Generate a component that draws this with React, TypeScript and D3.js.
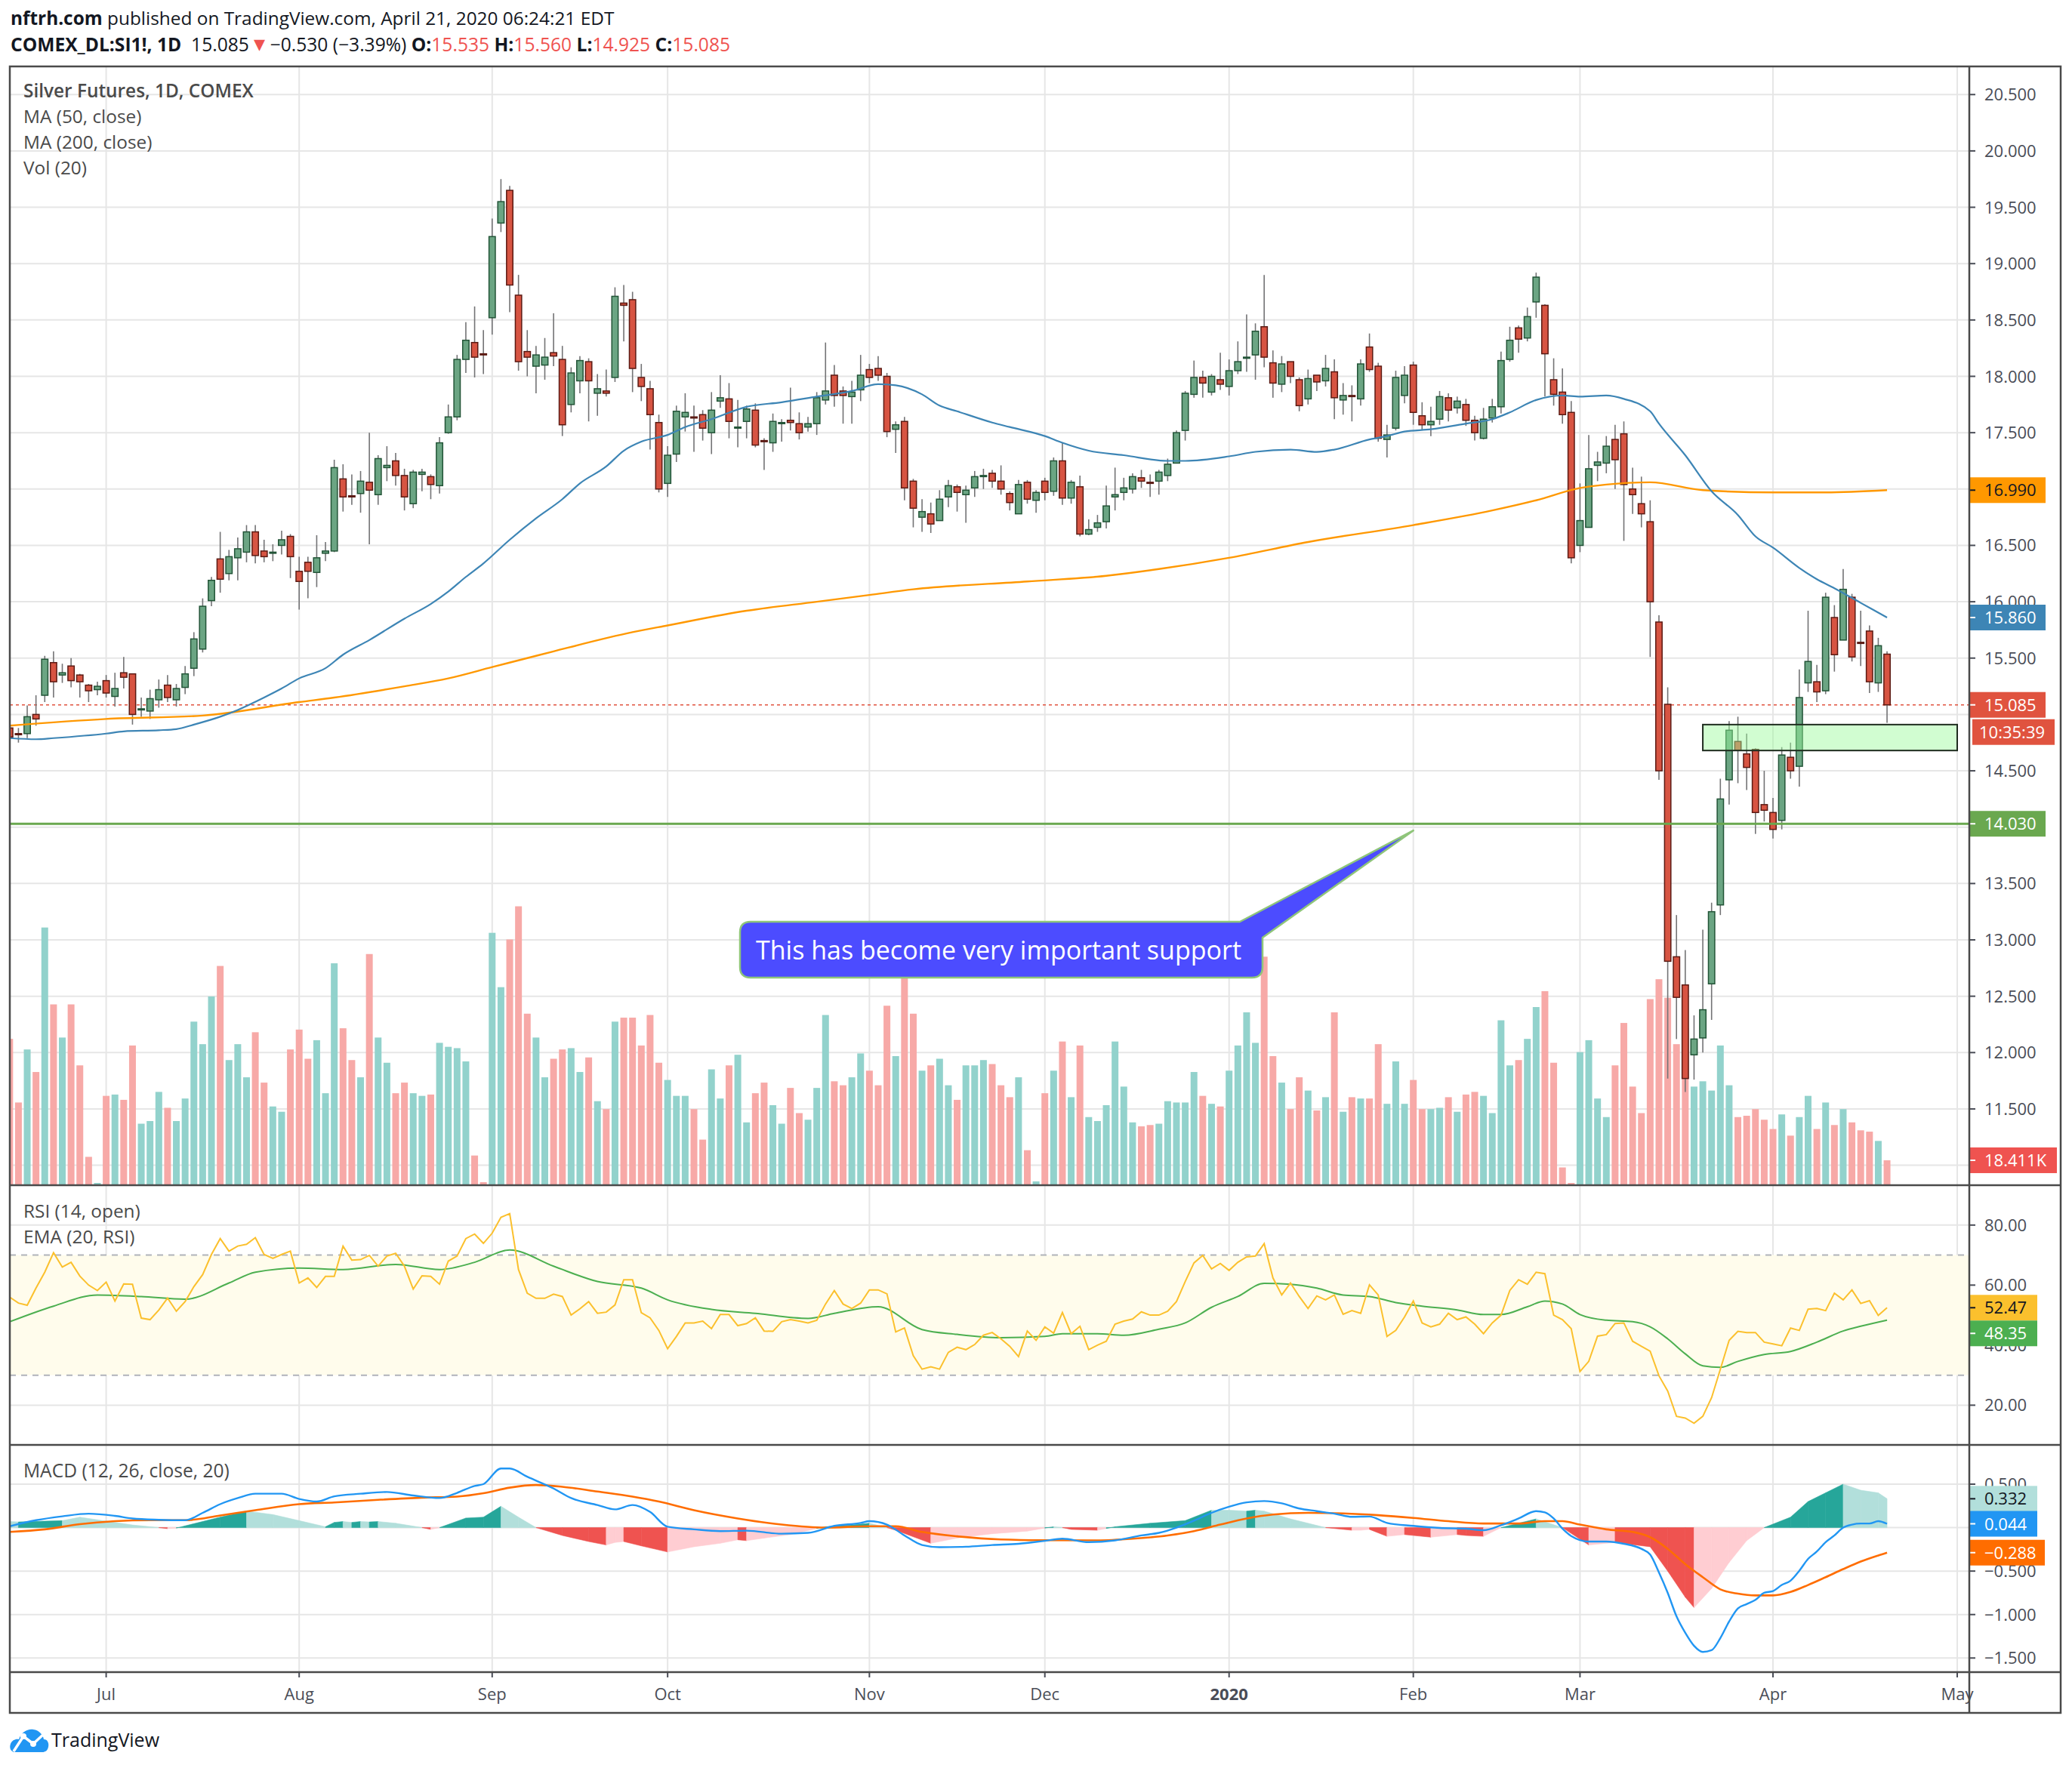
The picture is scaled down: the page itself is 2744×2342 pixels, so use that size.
import React from "react";
import * as d3 from "d3";

// ---- values ----
const monthTicks: [string, number][] = [
  ["Jul", 11], ["Aug", 33], ["Sep", 55], ["Oct", 75], ["Nov", 98], ["Dec", 118],
  ["2020", 139], ["Feb", 160], ["Mar", 179], ["Apr", 201], ["May", 222],
];
// tick labels that are not hidden behind a value tag
const priceTicks = [20.5, 20, 19.5, 19, 18.5, 18, 17.5, 16.5, 16, 15.5, 14.5, 13.5, 13, 12.5, 12, 11.5];
const priceGrid = [20.5, 20, 19.5, 19, 18.5, 18, 17.5, 17, 16.5, 16, 15.5, 15, 14.5, 14, 13.5, 13, 12.5, 12, 11.5, 11];
const rsiTicks = [80, 60, 40, 20];
const macdTicks = [0.5, -0.5, -1, -1.5];
const macdGrid = [0.5, 0, -0.5, -1, -1.5];

// open, high, low, close
const candles: [number, number, number, number][] = [
  [14.88, 14.9, 14.78, 14.8], [14.83, 14.88, 14.75, 14.82], [14.83, 15.08, 14.79, 14.98], [15.0, 15.17, 14.9, 14.96],
  [15.17, 15.52, 15.11, 15.49], [15.46, 15.56, 15.15, 15.29], [15.35, 15.45, 15.28, 15.37], [15.43, 15.5, 15.24, 15.3],
  [15.35, 15.36, 15.15, 15.29], [15.26, 15.27, 15.11, 15.21], [15.22, 15.29, 15.17, 15.25], [15.3, 15.35, 15.15, 15.19],
  [15.16, 15.37, 15.07, 15.23], [15.37, 15.51, 15.23, 15.33], [15.36, 15.36, 14.91, 15.0], [15.04, 15.15, 14.98, 15.05],
  [15.03, 15.22, 14.96, 15.14], [15.13, 15.31, 15.06, 15.22], [15.26, 15.35, 15.11, 15.15], [15.13, 15.27, 15.07, 15.23],
  [15.24, 15.43, 15.18, 15.36], [15.41, 15.73, 15.34, 15.67], [15.58, 16.03, 15.55, 15.96], [16.01, 16.22, 15.96, 16.19],
  [16.38, 16.62, 16.08, 16.2], [16.25, 16.46, 16.19, 16.4], [16.39, 16.57, 16.19, 16.47], [16.44, 16.68, 16.35, 16.62],
  [16.62, 16.68, 16.34, 16.41], [16.45, 16.55, 16.35, 16.4], [16.43, 16.51, 16.36, 16.44], [16.5, 16.63, 16.42, 16.55],
  [16.58, 16.6, 16.21, 16.4], [16.27, 16.4, 15.93, 16.18], [16.35, 16.4, 16.03, 16.27], [16.26, 16.59, 16.13, 16.39],
  [16.43, 16.53, 16.36, 16.45], [16.45, 17.26, 16.44, 17.19], [17.09, 17.22, 16.8, 16.93], [16.94, 17.13, 16.86, 16.93],
  [16.96, 17.16, 16.79, 17.07], [17.06, 17.5, 16.51, 16.99], [16.95, 17.3, 16.86, 17.27], [17.19, 17.38, 17.07, 17.21],
  [17.25, 17.32, 17.03, 17.12], [17.12, 17.18, 16.81, 16.93], [16.87, 17.17, 16.83, 17.15], [17.13, 17.18, 16.98, 17.15],
  [17.11, 17.13, 16.91, 17.04], [17.03, 17.46, 16.96, 17.41], [17.5, 17.75, 17.49, 17.64], [17.64, 18.19, 17.61, 18.15],
  [18.15, 18.48, 18.03, 18.32], [18.3, 18.62, 17.99, 18.17], [18.2, 18.41, 18.02, 18.19], [18.52, 19.4, 18.37, 19.24],
  [19.36, 19.75, 19.28, 19.55], [19.65, 19.69, 18.57, 18.81], [18.72, 18.9, 18.05, 18.13], [18.22, 18.41, 18.0, 18.17],
  [18.09, 18.27, 17.85, 18.19], [18.1, 18.34, 17.97, 18.17], [18.21, 18.56, 18.09, 18.18], [18.15, 18.27, 17.47, 17.57],
  [17.75, 18.08, 17.68, 18.03], [17.96, 18.18, 17.85, 18.14], [18.13, 18.16, 17.6, 17.96], [17.85, 18.02, 17.65, 17.89],
  [17.87, 18.06, 17.82, 17.85], [17.99, 18.79, 17.95, 18.71], [18.65, 18.81, 18.31, 18.63], [18.68, 18.75, 17.86, 18.07],
  [17.99, 18.11, 17.78, 17.91], [17.89, 17.96, 17.35, 17.66], [17.59, 17.66, 16.97, 17.0], [17.05, 17.38, 16.93, 17.3],
  [17.31, 17.74, 17.24, 17.69], [17.64, 17.85, 17.51, 17.68], [17.64, 17.74, 17.33, 17.63], [17.66, 17.7, 17.43, 17.54],
  [17.5, 17.86, 17.31, 17.7], [17.78, 18.01, 17.72, 17.81], [17.8, 17.94, 17.45, 17.6], [17.54, 17.79, 17.37, 17.55],
  [17.6, 17.74, 17.45, 17.71], [17.7, 17.76, 17.37, 17.39], [17.43, 17.45, 17.17, 17.42], [17.41, 17.67, 17.33, 17.6],
  [17.58, 17.62, 17.42, 17.59], [17.61, 17.9, 17.52, 17.59], [17.58, 17.68, 17.44, 17.5], [17.55, 17.64, 17.51, 17.58],
  [17.58, 17.86, 17.48, 17.81], [17.79, 18.3, 17.75, 17.87], [18.01, 18.1, 17.73, 17.83], [17.87, 17.91, 17.58, 17.83],
  [17.82, 17.96, 17.58, 17.86], [17.88, 18.19, 17.78, 18.01], [18.06, 18.11, 17.94, 17.99], [18.07, 18.18, 17.96, 18.01],
  [18.0, 18.03, 17.46, 17.51], [17.53, 17.6, 17.32, 17.57], [17.6, 17.64, 16.9, 17.01], [17.07, 17.09, 16.66, 16.83],
  [16.75, 16.91, 16.62, 16.8], [16.78, 16.88, 16.61, 16.69], [16.72, 16.99, 16.72, 16.91], [16.93, 17.08, 16.84, 17.03],
  [17.02, 17.04, 16.8, 16.97], [16.95, 17.03, 16.7, 16.99], [17.01, 17.16, 16.93, 17.11], [17.11, 17.18, 17.0, 17.12],
  [17.14, 17.17, 17.01, 17.07], [17.07, 17.21, 16.95, 17.0], [16.96, 16.98, 16.81, 16.88], [16.78, 17.08, 16.78, 17.04],
  [17.06, 17.08, 16.87, 16.91], [16.9, 16.99, 16.79, 16.97], [17.07, 17.1, 16.9, 16.97], [16.98, 17.28, 16.94, 17.25],
  [17.25, 17.41, 16.86, 16.92], [16.92, 17.08, 16.87, 17.06], [17.02, 17.12, 16.58, 16.6], [16.6, 16.73, 16.59, 16.64],
  [16.66, 16.77, 16.62, 16.7], [16.71, 17.03, 16.65, 16.85], [16.93, 17.19, 16.81, 16.95], [16.97, 17.1, 16.9, 17.01],
  [17.0, 17.14, 16.96, 17.11], [17.1, 17.17, 17.01, 17.07], [17.06, 17.13, 16.93, 17.05], [17.07, 17.17, 16.95, 17.15],
  [17.12, 17.27, 17.07, 17.22], [17.23, 17.52, 17.23, 17.5], [17.52, 17.87, 17.43, 17.85], [17.84, 18.14, 17.81, 17.99],
  [17.99, 18.05, 17.81, 17.94], [17.86, 18.02, 17.83, 18.0], [17.97, 18.21, 17.88, 17.93], [17.91, 18.15, 17.83, 18.05],
  [18.05, 18.31, 18.02, 18.13], [18.16, 18.55, 18.04, 18.17], [18.19, 18.47, 17.97, 18.4], [18.44, 18.9, 18.08, 18.17],
  [18.12, 18.23, 17.81, 17.94], [17.93, 18.18, 17.86, 18.11], [18.13, 18.13, 17.94, 18.0], [17.97, 17.99, 17.69, 17.74],
  [17.8, 18.06, 17.75, 17.98], [18.01, 18.01, 17.87, 17.95], [17.96, 18.19, 17.91, 18.07], [18.04, 18.15, 17.62, 17.81],
  [17.79, 17.94, 17.66, 17.83], [17.83, 17.92, 17.6, 17.82], [17.8, 18.15, 17.74, 18.11], [18.26, 18.38, 18.04, 18.06],
  [18.09, 18.12, 17.42, 17.45], [17.44, 17.57, 17.28, 17.48], [17.54, 18.05, 17.52, 17.99], [17.83, 18.09, 17.76, 18.01],
  [18.1, 18.13, 17.57, 17.68], [17.65, 17.77, 17.52, 17.57], [17.57, 17.73, 17.47, 17.6], [17.62, 17.87, 17.57, 17.82],
  [17.81, 17.85, 17.6, 17.7], [17.72, 17.82, 17.67, 17.78], [17.75, 17.8, 17.56, 17.61], [17.61, 17.65, 17.43, 17.5],
  [17.45, 17.72, 17.44, 17.62], [17.63, 17.8, 17.59, 17.73], [17.73, 18.22, 17.67, 18.14], [18.15, 18.44, 18.13, 18.32],
  [18.43, 18.45, 18.21, 18.33], [18.34, 18.61, 18.31, 18.53], [18.66, 18.92, 18.52, 18.88], [18.63, 18.64, 17.82, 18.2],
  [17.97, 18.16, 17.74, 17.84], [17.86, 18.07, 17.58, 17.66], [17.68, 17.78, 16.34, 16.39], [16.5, 17.05, 16.44, 16.72],
  [16.66, 17.48, 16.66, 17.18], [17.21, 17.33, 17.07, 17.24], [17.23, 17.47, 17.14, 17.38], [17.44, 17.57, 17.0, 17.26],
  [17.49, 17.6, 16.54, 17.04], [17.0, 17.19, 16.78, 16.95], [16.87, 17.11, 16.66, 16.78], [16.71, 16.9, 15.51, 16.0],
  [15.82, 15.88, 14.42, 14.5], [15.09, 15.24, 11.77, 12.81], [12.85, 13.22, 12.12, 12.49], [12.6, 12.91, 11.65, 11.77],
  [11.98, 12.33, 11.76, 12.12], [12.13, 13.09, 12.0, 12.38], [12.61, 13.33, 12.29, 13.25], [13.31, 14.43, 13.22, 14.25],
  [14.42, 14.94, 14.2, 14.86], [14.76, 14.98, 14.39, 14.68], [14.65, 14.83, 14.33, 14.53], [14.69, 14.7, 13.94, 14.13],
  [14.2, 14.5, 14.05, 14.15], [14.13, 14.26, 13.9, 13.98], [14.06, 14.71, 13.98, 14.64], [14.62, 14.75, 14.43, 14.5],
  [14.54, 15.4, 14.36, 15.15], [15.28, 15.92, 15.2, 15.47], [15.29, 15.44, 15.11, 15.2], [15.21, 16.08, 15.18, 16.04],
  [15.86, 15.97, 15.38, 15.53], [15.66, 16.29, 15.66, 16.11], [16.04, 16.07, 15.47, 15.51], [15.64, 15.92, 15.43, 15.63],
  [15.74, 15.79, 15.19, 15.29], [15.28, 15.68, 15.2, 15.61], [15.535, 15.56, 14.925, 15.085],
];

// volume in thousands of contracts
const volumesK = [
  110, 62, 102, 85, 194, 136, 111, 136, 90, 21, 1.3, 67, 68, 64, 105, 46, 48, 70, 58, 48,
  65, 123, 106, 142, 165, 94, 106, 81, 115, 77, 59, 55, 102, 117, 95, 109, 69, 167, 118, 94,
  81, 174, 111, 92, 69, 77, 69, 67, 68, 107, 104, 103, 93, 22, 1.9, 190, 149, 185, 210, 129,
  111, 81, 95, 102, 103, 85, 96, 63, 57, 123, 126, 126, 105, 128, 92, 79, 67, 67, 57, 34,
  87, 65, 90, 98, 47, 69, 77, 60, 46, 73, 54, 49, 73, 128, 78, 75, 81, 99, 86, 75,
  135, 97, 161, 129, 86, 90, 95, 75, 64, 90, 90, 94, 91, 75, 66, 81, 26, 2.5, 69, 86,
  108, 66, 105, 51, 48, 60, 108, 74, 47, 44, 45, 46, 63, 62, 62, 85, 67, 61, 59, 86,
  105, 130, 107, 172, 97, 77, 57, 81, 71, 56, 66, 130, 55, 66, 65, 65, 106, 61, 93, 61,
  79, 57, 57, 58, 66, 55, 68, 70, 67, 54, 124, 90, 94, 110, 134, 146, 92, 13, 1.3, 100,
  109, 65, 51, 90, 122, 74, 54, 140, 155, 141, 106, 118, 74, 78, 71, 105, 75, 51, 52, 57,
  49, 42, 53, 37, 51, 67, 42, 62, 45, 57, 47, 41, 40, 33, 18.411,
];

const ma50: [number, number][] = [
  [0, 14.79], [3, 14.78], [5, 14.79], [11, 14.83], [13, 14.85], [17, 14.86], [19, 14.87], [21, 14.91],
  [24, 14.98], [26, 15.04], [29, 15.15], [31, 15.23], [33, 15.32], [36, 15.41], [38, 15.53], [41, 15.66],
  [45, 15.85], [48, 15.98], [50, 16.09], [52, 16.22], [54, 16.34], [57, 16.55], [60, 16.74], [63, 16.91],
  [65, 17.05], [68, 17.2], [70, 17.34], [72, 17.42], [75, 17.48], [77, 17.55], [80, 17.62], [84, 17.73],
  [88, 17.77], [92, 17.82], [96, 17.87], [99, 17.93], [101, 17.92], [104, 17.84], [106, 17.74], [108, 17.69],
  [112, 17.59], [114, 17.55], [118, 17.47], [120, 17.41], [123, 17.34], [127, 17.3], [132, 17.25], [134, 17.25],
  [139, 17.29], [142, 17.33], [146, 17.35], [149, 17.33], [151, 17.35], [155, 17.44], [157, 17.47], [159, 17.51],
  [162, 17.53], [166, 17.58], [169, 17.62], [171, 17.68], [174, 17.79], [177, 17.83], [179, 17.82], [182, 17.83],
  [184, 17.8], [187, 17.69], [188, 17.58], [191, 17.3], [194, 16.98], [197, 16.77], [199, 16.58], [201, 16.48],
  [204, 16.3], [206, 16.2], [208, 16.12], [211, 15.99], [214, 15.86],
];
const ma200: [number, number][] = [
  [0, 14.9], [11, 14.96], [22, 14.99], [33, 15.11], [37, 15.15], [45, 15.25], [50, 15.32], [55, 15.42],
  [59, 15.5], [62, 15.56], [71, 15.73], [75, 15.79], [84, 15.92], [92, 16.0], [98, 16.06], [103, 16.11],
  [116, 16.18], [125, 16.23], [131, 16.29], [139, 16.39], [148, 16.53], [160, 16.68], [169, 16.81], [174, 16.9],
  [179, 17.01], [182, 17.04], [187, 17.06], [193, 16.99], [201, 16.97], [207, 16.97], [214, 16.99],
];

const rsiOpen = [
  56, 54, 53.3, 59, 64.3, 70.8, 66, 67.6, 63, 60, 58.2, 61, 54.7, 60.4, 60.3, 49, 48.5, 51.7, 55.7, 51.3,
  54.5, 59.5, 63.5, 70.2, 75.5, 71.3, 73, 73.6, 75.8, 70.2, 68.9, 70.2, 71.3, 60.7, 62.4, 59.2, 62.9, 62.9, 73, 68.3,
  68.5, 69.9, 66.3, 69.7, 70.6, 66.3, 58.7, 63.1, 62.9, 60.3, 68, 69.7, 75.5, 77, 73.9, 77.3, 82.6, 83.8, 65.2, 57.3,
  55.6, 55.6, 57, 56.2, 50, 52.1, 54.5, 50.6, 51, 53.4, 61.8, 61.8, 50.8, 49.1, 44.9, 38.8, 42.9, 47.4, 47.4, 48,
  45.5, 50.2, 50.2, 46.5, 47.2, 49.1, 44.7, 44.6, 47.8, 48.5, 48, 47.4, 48.3, 53.7, 58.2, 53.7, 52.2, 54, 58.4, 58.4,
  57.1, 44.4, 45.7, 36.5, 32, 32.8, 32, 37.6, 39.3, 38.5, 40.2, 43.3, 44.2, 42.1, 39.6, 36.2, 44.7, 41.6, 46.1, 44,
  50.9, 43.8, 46.3, 38.5, 40, 41.3, 47, 48, 48.7, 51.1, 50, 50, 51.3, 54.5, 61.2, 67.4, 69.9, 65.4, 67.2, 64.9,
  67.6, 69.4, 69.7, 73.8, 62.4, 56.7, 60.7, 56.2, 52.2, 56.4, 55.1, 56.7, 50.3, 51.5, 50.6, 60.1, 56.7, 42.9, 44.9, 49.4,
  54.7, 47.4, 46.1, 47, 50.6, 48.5, 49.4, 47, 43.8, 47.4, 50, 58.2, 61.8, 60.3, 64.3, 63.8, 50, 48.5, 45.5, 31.2,
  34.6, 43, 43.5, 47.2, 47.4, 41.3, 39.6, 38, 29.8, 24.7, 16.3, 15.7, 14, 16.3, 22.5, 32, 41.6, 44.6, 44.2, 44.2,
  41, 40.4, 39.8, 45.7, 44.9, 52, 52.2, 51.5, 57.3, 55.1, 58.4, 53.9, 54.8, 49.9, 52.47,
];
const rsiEma: [number, number][] = [
  [0, 47.8], [5, 53], [10, 56.7], [15, 56.2], [20, 55.3], [25, 60.7], [28, 64.3], [33, 65.7], [38, 65.2],
  [44, 66.9], [49, 65.2], [53, 67.6], [57, 71.7], [62, 66.3], [67, 61.2], [72, 59], [75, 55.1], [80, 51.9],
  [85, 50.6], [91, 48.9], [94, 50.6], [99, 52.8], [104, 45.2], [108, 43.6], [113, 42.5], [118, 42.9], [120, 43.8],
  [124, 43.8], [127, 43.3], [131, 45.3], [134, 47.4], [137, 52.6], [140, 56.2], [143, 60.6], [146, 60.3], [149, 59],
  [152, 56.7], [155, 56.2], [158, 54.2], [161, 53], [165, 51.7], [168, 50.2], [170, 50.2], [173, 52.8], [175, 54.7],
  [177, 53.7], [179, 50.2], [182, 48.3], [185, 47.8], [187, 46.1], [189, 42.1], [191, 37.1], [193, 33.1], [195, 32.6],
  [197, 34.6], [200, 36.9], [203, 37.9], [206, 41], [209, 44.7], [211, 46.3], [214, 48.35],
];

const macdLine: [number, number][] = [
  [0, 0.016], [3, 0.085], [6, 0.13], [9, 0.16], [12, 0.135], [14, 0.105], [17, 0.09], [20, 0.085], [22, 0.17],
  [24, 0.27], [26, 0.34], [28, 0.39], [31, 0.39], [33, 0.33], [35, 0.3], [37, 0.36], [40, 0.39], [43, 0.41],
  [46, 0.37], [49, 0.34], [51, 0.4], [53, 0.48], [54, 0.5], [56, 0.68], [57, 0.68], [59, 0.585], [62, 0.45],
  [64, 0.34], [67, 0.26], [69, 0.21], [71, 0.26], [73, 0.18], [75, 0.01], [78, -0.02], [81, -0.04], [84, -0.035],
  [88, -0.07], [91, -0.06], [94, 0.02], [97, 0.054], [98, 0.074], [100, 0.035], [102, -0.09], [104, -0.2],
  [106, -0.225], [109, -0.22], [112, -0.2], [115, -0.186], [118, -0.152], [120, -0.128], [123, -0.167],
  [126, -0.147], [129, -0.09], [131, -0.06], [133, 0.0], [135, 0.08], [137, 0.17], [139, 0.24], [141, 0.29],
  [143, 0.306], [145, 0.28], [147, 0.22], [149, 0.19], [151, 0.16], [153, 0.124], [155, 0.128], [157, 0.054],
  [160, 0.02], [163, -0.004], [166, -0.012], [168, -0.03], [170, 0.027], [172, 0.105], [174, 0.19], [175, 0.175],
  [176, 0.105], [177, -0.012], [178, -0.097], [180, -0.16], [182, -0.16], [184, -0.186], [186, -0.244],
  [187, -0.31], [188, -0.516], [189, -0.75], [190, -1.02], [191, -1.21], [192, -1.36], [193, -1.43], [194, -1.41],
  [195, -1.27], [196, -1.08], [197, -0.93], [198, -0.88], [199, -0.83], [200, -0.75], [201, -0.73], [202, -0.66],
  [203, -0.61], [204, -0.496], [205, -0.36], [206, -0.275], [207, -0.167], [208, -0.09], [209, 0.0], [210, 0.035],
  [211, 0.047], [212, 0.047], [213, 0.074], [214, 0.044],
];
const signalLine: [number, number][] = [
  [0, -0.05], [4, -0.02], [8, 0.04], [12, 0.074], [16, 0.085], [20, 0.085], [24, 0.14], [28, 0.2], [33, 0.27],
  [37, 0.29], [42, 0.32], [47, 0.345], [51, 0.357], [54, 0.395], [57, 0.46], [60, 0.49], [63, 0.47], [67, 0.415],
  [71, 0.357], [74, 0.3], [78, 0.2], [83, 0.105], [88, 0.035], [93, 0.0], [98, 0.016], [101, 0.016], [104, -0.05],
  [108, -0.1], [113, -0.136], [118, -0.145], [124, -0.147], [128, -0.128], [132, -0.09], [135, -0.04], [138, 0.035],
  [141, 0.105], [144, 0.15], [148, 0.17], [152, 0.163], [156, 0.143], [160, 0.112], [164, 0.074], [168, 0.047],
  [172, 0.047], [175, 0.074], [177, 0.074], [179, 0.035], [182, -0.02], [185, -0.05], [187, -0.11], [189, -0.244],
  [191, -0.42], [193, -0.57], [195, -0.71], [197, -0.76], [199, -0.78], [201, -0.78], [203, -0.74], [205, -0.66],
  [207, -0.57], [209, -0.477], [211, -0.39], [213, -0.32], [214, -0.288],
];
// bar index, histogram value, colour of the segment ending here
// (0 rising above zero, 1 falling above zero, 2 falling below zero, 3 rising below zero)
const macdHist: [number, number, number][] = [
  [0, 0.07, 1], [1, 0.065, 1], [6, 0.08, 0], [8, 0.12, 1], [10, 0.09, 1], [14, 0.03, 1], [17, 0.0, 1],
  [18, -0.012, 2], [19, -0.005, 3], [20, 0.02, 0], [24, 0.12, 0], [27, 0.19, 0], [30, 0.15, 1], [33, 0.08, 1],
  [36, 0.01, 1], [37, 0.06, 0], [38, 0.07, 0], [39, 0.06, 1], [40, 0.07, 0], [41, 0.065, 1], [42, 0.07, 0],
  [44, 0.05, 1], [47, 0.0, 1], [48, -0.02, 2], [49, 0.0, 3], [52, 0.11, 0], [54, 0.12, 0], [56, 0.245, 0],
  [58, 0.12, 1], [60, 0.0, 1], [63, -0.09, 2], [66, -0.16, 2], [68, -0.2, 2], [69, -0.17, 3], [70, -0.16, 3],
  [72, -0.21, 2], [75, -0.28, 2], [78, -0.22, 3], [81, -0.18, 3], [83, -0.14, 3], [84, -0.15, 2], [86, -0.12, 3],
  [89, -0.08, 3], [92, -0.01, 3], [93, 0.01, 0], [96, 0.03, 0], [98, 0.05, 0], [100, 0.0, 1], [101, -0.03, 2],
  [105, -0.18, 2], [108, -0.12, 3], [112, -0.07, 3], [116, -0.04, 3], [118, -0.005, 3], [119, 0.01, 0],
  [120, 0.0, 1], [121, -0.02, 2], [124, -0.03, 2], [125, -0.01, 3], [126, 0.01, 0], [130, 0.05, 0],
  [134, 0.08, 0], [137, 0.2, 0], [139, 0.2, 1], [141, 0.19, 1], [142, 0.2, 0], [143, 0.19, 1], [146, 0.1, 1],
  [150, 0.0, 1], [153, -0.03, 2], [154, -0.03, 3], [155, -0.02, 3], [157, -0.1, 2], [158, -0.09, 3],
  [159, -0.08, 3], [162, -0.11, 2], [165, -0.08, 3], [166, -0.09, 2], [168, -0.1, 2], [170, 0.0, 3],
  [174, 0.1, 0], [177, 0.0, 1], [180, -0.2, 2], [183, -0.17, 3], [187, -0.22, 2], [189, -0.5, 2], [191, -0.8, 2],
  [192, -0.92, 2], [194, -0.7, 3], [196, -0.4, 3], [198, -0.15, 3], [200, 0.0, 3], [203, 0.12, 0], [205, 0.3, 0],
  [207, 0.4, 0], [209, 0.5, 0], [211, 0.43, 1], [213, 0.4, 1], [214, 0.332, 1],
];

const supportLevel = 14.03;
const lastPrice = 15.085;
const zoneBox = { from: 193, to: 222, low: 14.68, high: 14.91 };
const calloutTip = { index: 160, price: 13.97 };

// ---- layout ----
const W = 2744;
const H = 2342;
const LEFT = 13;
const PLOT_R = 2608;
const RIGHT = 2729;
const TOP = 88;
const PRICE_B = 1570;
const RSI_B = 1914;
const MACD_B = 2215;
const BOTTOM = 2269;
const FONT = "'Open Sans', 'Liberation Sans', sans-serif";
const AXIS_TXT = "#4a4d57";
const GRID = "#e6e6e6";
const FRAME = "#4a4a4a";
const histColors = ["#26a69a", "#b2dfdb", "#ef5350", "#ffcdd2"];

const x = d3.scaleLinear().domain([0, 214]).range([12.8, 12.8 + 214 * 11.618]);
const yPrice = d3.scaleLinear().domain([11, 20.5]).range([1543.6, 125.25]);
const yVol = d3.scaleLinear().domain([0, 100]).range([1569.3, 1393.7]);
const yRsi = d3.scaleLinear().domain([20, 80]).range([1861.4, 1622.8]);
const yMacd = d3.scaleLinear().domain([-1.5, 0.5]).range([2196.3, 1966]);

const smooth = (ys: d3.ScaleLinear<number, number>) =>
  d3.line<[number, number]>().x((d) => x(d[0])).y((d) => ys(d[1])).curve(d3.curveMonotoneX);

function AxisTag({ y, text, bg, fg, w = 100, x0 = PLOT_R + 1 }: { y: number; text: string; bg: string; fg: string; w?: number; x0?: number }) {
  return (
    <g>
      <rect x={x0} y={y - 17} width={w} height={34} fill={bg} />
      <line x1={PLOT_R} x2={PLOT_R + 8} y1={y} y2={y} stroke={fg} strokeWidth={2} />
      <text x={PLOT_R + 20} y={y + 8} fontSize={22} fill={fg} fontFamily={FONT}>{text}</text>
    </g>
  );
}

export default function App() {
  const xs = monthTicks.map(([, i]) => x(i));
  const rsiPath = d3.line<number>().x((_, i) => x(i)).y((d) => yRsi(d))(rsiOpen) || "";

  const histPolys = macdHist.slice(1).map((p, k) => {
    const a = macdHist[k];
    const z = yMacd(0);
    return (
      <polygon
        key={k}
        points={`${x(a[0])},${z} ${x(a[0])},${yMacd(a[1])} ${x(p[0])},${yMacd(p[1])} ${x(p[0])},${z}`}
        fill={histColors[p[2]]}
        stroke={histColors[p[2]]}
        strokeWidth={0.6}
      />
    );
  });

  const tipX = x(calloutTip.index);
  const tipY = yPrice(calloutTip.price);
  const bx0 = 980, by0 = 1221, bx1 = 1672, by1 = 1295, r = 14;
  const calloutPath = `M${bx0 + r},${by0} L1642,${by0} L${tipX},${tipY} L${bx1},1242 L${bx1},${by1 - r} Q${bx1},${by1} ${bx1 - r},${by1} L${bx0 + r},${by1} Q${bx0},${by1} ${bx0},${by1 - r} L${bx0},${by0 + r} Q${bx0},${by0} ${bx0 + r},${by0} Z`;

  return (
    <div style={{ position: "absolute", left: 0, top: 0, background: "#fff" }}>
      <svg width={W} height={H} viewBox={`0 0 ${W} ${H}`} style={{ display: "block", fontFamily: FONT }}>
        <defs>
          <clipPath id="pricePane"><rect x={LEFT} y={TOP} width={PLOT_R - LEFT} height={PRICE_B - TOP} /></clipPath>
          <clipPath id="rsiPane"><rect x={LEFT} y={PRICE_B} width={PLOT_R - LEFT} height={RSI_B - PRICE_B} /></clipPath>
          <clipPath id="macdPane"><rect x={LEFT} y={RSI_B} width={PLOT_R - LEFT} height={MACD_B - RSI_B} /></clipPath>
        </defs>
        <rect width={W} height={H} fill="#fff" />

        {/* header */}
        <text x={14} y={33} fontSize={24.4} fill="#131722">
          <tspan fontWeight={700}>nftrh.com</tspan>
          <tspan> published on TradingView.com, April 21, 2020 06:24:21 EDT</tspan>
        </text>
        <text x={14} y={68} fontSize={24.6} fill="#131722" xmlSpace="preserve">
          <tspan fontWeight={700}>COMEX_DL:SI1!, 1D</tspan>
          <tspan>{"  15.085 "}</tspan>
          <tspan fill="#ef5350" fontSize={30}>▾</tspan>
          <tspan>{" −0.530 (−3.39%) "}</tspan>
          <tspan fontWeight={700}>O:</tspan><tspan fill="#ef5350">15.535</tspan>
          <tspan fontWeight={700}>{" H:"}</tspan><tspan fill="#ef5350">15.560</tspan>
          <tspan fontWeight={700}>{" L:"}</tspan><tspan fill="#ef5350">14.925</tspan>
          <tspan fontWeight={700}>{" C:"}</tspan><tspan fill="#ef5350">15.085</tspan>
        </text>

        {/* grid */}
        <g stroke={GRID} strokeWidth={2}>
          {xs.map((gx, k) => <line key={k} x1={gx} x2={gx} y1={TOP} y2={MACD_B} />)}
          {priceGrid.map((p) => <line key={p} x1={LEFT} x2={PLOT_R} y1={yPrice(p)} y2={yPrice(p)} />)}
          {rsiTicks.map((v) => <line key={v} x1={LEFT} x2={PLOT_R} y1={yRsi(v)} y2={yRsi(v)} />)}
          {macdGrid.map((v) => <line key={v} x1={LEFT} x2={PLOT_R} y1={yMacd(v)} y2={yMacd(v)} />)}
        </g>

        {/* price pane */}
        <g clipPath="url(#pricePane)">
          {volumesK.map((v, i) => {
            const [o, , , c] = candles[i];
            return (
              <rect key={i} x={x(i) - 4.5} y={yVol(v)} width={9} height={yVol(0) - yVol(v)}
                fill={c >= o ? "#92d2cc" : "#f7a9a7"} />
            );
          })}
          <line x1={LEFT} x2={PLOT_R} y1={yPrice(lastPrice)} y2={yPrice(lastPrice)} stroke="#e0533f" strokeWidth={1.6} strokeDasharray="4 4" />
          {candles.map(([o, h, l, c], i) => {
            const up = c >= o;
            const cx = x(i);
            const top = yPrice(Math.max(o, c));
            const bot = yPrice(Math.min(o, c));
            return (
              <g key={i}>
                <line x1={cx} x2={cx} y1={yPrice(h)} y2={yPrice(l)} stroke="#737375" strokeWidth={1.6} />
                <rect x={cx - 4.2} y={top} width={8.4} height={Math.max(bot - top, 1.5)}
                  fill={up ? "#6ba583" : "#d75442"} stroke={up ? "#225437" : "#5b1a13"} strokeWidth={1.5} />
              </g>
            );
          })}
          <path d={smooth(yPrice)(ma200) || ""} fill="none" stroke="#ff9800" strokeWidth={2.4} />
          <path d={smooth(yPrice)(ma50) || ""} fill="none" stroke="#3d85b5" strokeWidth={2.2} />
          <rect x={x(zoneBox.from)} y={yPrice(zoneBox.high)} width={x(zoneBox.to) - x(zoneBox.from)}
            height={yPrice(zoneBox.low) - yPrice(zoneBox.high)} fill="rgba(152,251,152,0.45)" stroke="#1e2b1e" strokeWidth={2} />
          <line x1={LEFT} x2={PLOT_R} y1={yPrice(supportLevel)} y2={yPrice(supportLevel)} stroke="#6aa84f" strokeWidth={3} />
        </g>

        {/* legend */}
        <g fill="#4a4a4a" fontSize={24.4}>
          <text x={31} y={129} fontWeight={600}>Silver Futures, 1D, COMEX</text>
          <text x={31} y={163}>MA (50, close)</text>
          <text x={31} y={197}>MA (200, close)</text>
          <text x={31} y={231}>Vol (20)</text>
        </g>

        {/* RSI pane */}
        <g clipPath="url(#rsiPane)">
          <rect x={LEFT} y={yRsi(70)} width={PLOT_R - LEFT} height={yRsi(30) - yRsi(70)} fill="#fffcec" />
          {[70, 30].map((v) => (
            <line key={v} x1={LEFT} x2={PLOT_R} y1={yRsi(v)} y2={yRsi(v)} stroke="#b0b3ba" strokeWidth={2} strokeDasharray="8 7" />
          ))}
          <path d={smooth(yRsi)(rsiEma) || ""} fill="none" stroke="#4caf50" strokeWidth={2} />
          <path d={rsiPath} fill="none" stroke="#fbc02d" strokeWidth={2} />
        </g>
        <g fill="#4a4a4a" fontSize={24.4}>
          <text x={31} y={1613}>RSI (14, open)</text>
          <text x={31} y={1647}>EMA (20, RSI)</text>
        </g>

        {/* MACD pane */}
        <g clipPath="url(#macdPane)">
          {histPolys}
          <path d={smooth(yMacd)(signalLine) || ""} fill="none" stroke="#ff6d00" strokeWidth={2.6} />
          <path d={smooth(yMacd)(macdLine) || ""} fill="none" stroke="#2196f3" strokeWidth={2.4} />
        </g>
        <text x={31} y={1957} fill="#4a4a4a" fontSize={24.6}>MACD (12, 26, close, 20)</text>

        {/* callout */}
        <path d={calloutPath} fill="#4c4cff" stroke="#8fc57a" strokeWidth={2.5} strokeLinejoin="round" />
        <text x={1001} y={1271} fill="#fff" fontSize={34}>This has become very important support</text>

        {/* price axis */}
        <g fontSize={22} fill={AXIS_TXT}>
          {priceTicks.map((p) => (
            <g key={p}>
              <line x1={PLOT_R} x2={PLOT_R + 8} y1={yPrice(p)} y2={yPrice(p)} stroke={AXIS_TXT} strokeWidth={2} />
              <text x={PLOT_R + 20} y={yPrice(p) + 8}>{p.toFixed(3)}</text>
            </g>
          ))}
          {rsiTicks.map((v) => (
            <g key={v}>
              <line x1={PLOT_R} x2={PLOT_R + 8} y1={yRsi(v)} y2={yRsi(v)} stroke={AXIS_TXT} strokeWidth={2} />
              <text x={PLOT_R + 20} y={yRsi(v) + 8}>{v.toFixed(2)}</text>
            </g>
          ))}
          {macdTicks.map((v) => (
            <g key={v}>
              <line x1={PLOT_R} x2={PLOT_R + 8} y1={yMacd(v)} y2={yMacd(v)} stroke={AXIS_TXT} strokeWidth={2} />
              <text x={PLOT_R + 20} y={yMacd(v) + 8}>{v.toFixed(3).replace("-", "−")}</text>
            </g>
          ))}
        </g>
        <AxisTag y={yPrice(16.99)} text="16.990" bg="#ff9800" fg="#131722" />
        <AxisTag y={yPrice(15.86)} text="15.860" bg="#3d85b5" fg="#fff" />
        <AxisTag y={yPrice(lastPrice)} text="15.085" bg="#e0533f" fg="#fff" />
        <g>
          <rect x={PLOT_R + 4} y={yPrice(lastPrice) + 19} width={109} height={34} fill="#e0533f" />
          <text x={PLOT_R + 13} y={yPrice(lastPrice) + 44} fontSize={22} fill="#fff">10:35:39</text>
        </g>
        <AxisTag y={yPrice(supportLevel)} text="14.030" bg="#6aa84f" fg="#fff" />
        <AxisTag y={yVol(volumesK[214])} text="18.411K" bg="#ef5350" fg="#fff" w={115} />
        <AxisTag y={yRsi(52.47)} text="52.47" bg="#fbc02d" fg="#131722" w={89} />
        <AxisTag y={yRsi(52.47) + 34} text="48.35" bg="#4caf50" fg="#fff" w={89} />
        <AxisTag y={yMacd(0.332)} text="0.332" bg="#b2dfdb" fg="#131722" w={89} />
        <AxisTag y={yMacd(0.044)} text="0.044" bg="#2196f3" fg="#fff" w={89} />
        <AxisTag y={yMacd(-0.288)} text="−0.288" bg="#ff6d00" fg="#fff" w={99} />

        {/* time axis */}
        <g fontSize={22} fill={AXIS_TXT} textAnchor="middle">
          {monthTicks.map(([label], k) => (
            <g key={label}>
              <line x1={xs[k]} x2={xs[k]} y1={MACD_B} y2={MACD_B + 7} stroke={AXIS_TXT} strokeWidth={2} />
              <text x={xs[k]} y={2252} fontWeight={label === "2020" ? 700 : 400}>{label}</text>
            </g>
          ))}
        </g>

        {/* frame and pane separators */}
        <g stroke={FRAME} strokeWidth={2.5} fill="none">
          <rect x={LEFT} y={TOP} width={RIGHT - LEFT} height={BOTTOM - TOP} />
          <line x1={PLOT_R} x2={PLOT_R} y1={TOP} y2={BOTTOM} />
          <line x1={LEFT} x2={RIGHT} y1={PRICE_B} y2={PRICE_B} />
          <line x1={LEFT} x2={RIGHT} y1={RSI_B} y2={RSI_B} />
          <line x1={LEFT} x2={RIGHT} y1={MACD_B} y2={MACD_B} />
        </g>

        {/* footer logo */}
        <g transform="translate(12,2289)">
          <path d="M8,32 C2,32 0,26 2,21 C4,16 9,14 13,15 C16,6 24,1 32,2 C40,3 45,9 46,15 C51,15 53,20 52,25 C51,30 48,32 44,32 Z" fill="#2196f3" />
          <polyline points="6,31 19,11 32,21 46,8" fill="none" stroke="#fff" strokeWidth={3.5} strokeLinejoin="round" />
          <circle cx={19} cy={11} r={4} fill="#fff" />
          <circle cx={32} cy={21} r={4} fill="#fff" />
        </g>
        <text x={68} y={2314} fontSize={25} fill="#131722">TradingView</text>
      </svg>
    </div>
  );
}
